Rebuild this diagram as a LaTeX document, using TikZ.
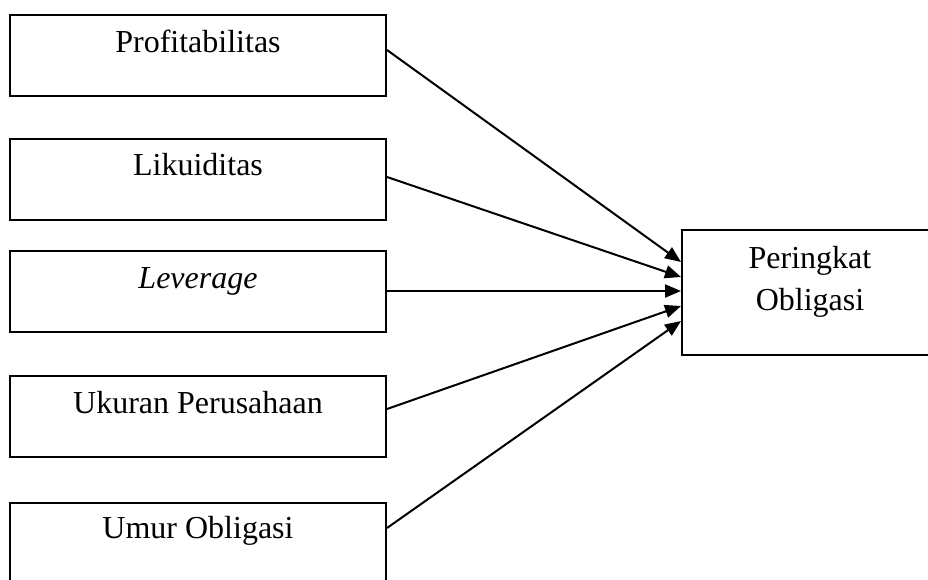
\documentclass[tikz,border=0pt]{standalone}
\usepackage{fontspec}
\setmainfont{Liberation Serif}
\usetikzlibrary{arrows.meta,calc}
\begin{document}
\begin{tikzpicture}[x=1pt,y=1pt,
  varbox/.style={draw=black,line width=2pt,minimum width=376pt,minimum height=81pt,inner sep=0pt,anchor=north west},
  outbox/.style={draw=black,line width=2pt,minimum width=256pt,minimum height=125pt,inner sep=0pt,anchor=north west},
  lbl/.style={font=\fontsize{32}{42}\selectfont,anchor=base,inner sep=0pt},
  conn/.style={line width=2pt,-{Triangle[length=16pt,width=13pt]}}]
\useasboundingbox (0,0) rectangle (928,-579);
\node[varbox] (prof) at (9,-14) {};
\node[varbox] (liku) at (9,-138) {};
\node[varbox] (lev)  at (9,-250) {};
\node[varbox] (ukur) at (9,-375) {};
\node[varbox] (umur) at (9,-502) {};
\node[outbox] (per)  at (681,-229) {};
\node[lbl] (tprof) at ($(prof.north)+(0,-38)$) {Profitabilitas};
\node[lbl] (tliku) at ($(liku.north)+(0,-37)$) {Likuiditas};
\node[lbl] (tlev)  at ($(lev.north)+(0,-38)$) {\itshape Leverage};
\node[lbl] (tukur) at ($(ukur.north)+(0,-38)$) {Ukuran Perusahaan};
\node[lbl] (tumur) at ($(umur.north)+(0,-36)$) {Umur Obligasi};
\node[lbl,align=center,anchor=base] (tper) at ($(per.north)+(0,-81)$) {Peringkat\\Obligasi};
\draw[conn] ($(prof.north east)+(0,-36)$) -- ($(per.north west)+(0,-33)$);
\draw[conn] ($(liku.north east)+(0,-39)$) -- ($(per.north west)+(0,-48)$);
\draw[conn] ($(lev.north east)+(0,-41)$)  -- ($(per.north west)+(0,-62)$);
\draw[conn] ($(ukur.north east)+(0,-34)$) -- ($(per.north west)+(0,-77)$);
\draw[conn] ($(umur.north east)+(0,-26)$) -- ($(per.north west)+(0,-92)$);
\end{tikzpicture}
\end{document}
